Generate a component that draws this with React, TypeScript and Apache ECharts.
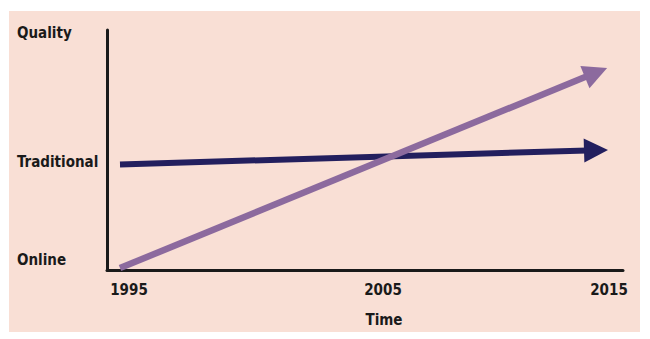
import React, { useEffect, useRef } from "react";
import * as echarts from "echarts";

const xTickValues = [1995, 2005, 2015];
const xTickShift = [18, 50, 26];
const yTickValues = [4.2, 45.1, 98.8];
const yTickLabels = ["Online", "Traditional", "Quality"];
const seriesNames = ["Traditional", "Online"];
const traditionalLine = [[1995, 44], [2015, 49.9]];
const onlineLine = [[1995, 0.8], [2015, 82.3]];
const seriesColors = ["#231f5e", "#8c6a9e"];

const FONT = "'Liberation Sans Narrow', 'DejaVu Sans Condensed', 'Arial Narrow', sans-serif";
const FS = 15;

export default function App() {
  const ref = useRef<HTMLDivElement>(null);
  useEffect(() => {
    if (!ref.current) return;
    const chart = echarts.init(ref.current, null, { renderer: "svg" });
    const rich: any = {};
    xTickValues.forEach((v, i) => {
      rich["t" + i] = {
        fontFamily: FONT,
        fontWeight: "bold",
        fontSize: FS,
        color: "#1a1a1a",
        padding: [0, 0, 0, xTickShift[i]],
      };
    });
    chart.setOption({
      animation: false,
      backgroundColor: "#ffffff",
      graphic: [
        {
          type: "rect",
          z: -10,
          shape: { x: 9, y: 11, width: 631, height: 321 },
          style: { fill: "#f9dfd5" },
          silent: true,
        },
      ],
      grid: { left: 107, right: 27, top: 30, bottom: 69, containLabel: false },
      xAxis: {
        type: "value",
        min: 1994.454,
        max: 2016.134,
        name: "Time",
        nameLocation: "middle",
        nameGap: 42,
        nameTextStyle: {
          fontFamily: FONT,
          fontWeight: "bold",
          fontSize: FS,
          color: "#1a1a1a",
          padding: [0, 0, 0, 38],
        },
        axisLine: { show: true, lineStyle: { color: "#1a1a1a", width: 3 } },
        axisTick: { show: false },
        splitLine: { show: false },
        axisLabel: {
          customValues: xTickValues,
          margin: 12,
          formatter: (v: number) => {
            const i = xTickValues.indexOf(Math.round(v));
            return "{t" + i + "|" + Math.round(v) + "}";
          },
          rich,
        },
      },
      yAxis: {
        type: "value",
        min: 0,
        max: 100,
        axisLine: { show: true, lineStyle: { color: "#1a1a1a", width: 3 } },
        axisTick: { show: false },
        splitLine: { show: false },
        axisLabel: {
          customValues: yTickValues,
          align: "left",
          margin: 90,
          fontFamily: FONT,
          fontWeight: "bold",
          fontSize: FS,
          color: "#1a1a1a",
          formatter: (v: number) => {
            let best = 0;
            yTickValues.forEach((t, i) => {
              if (Math.abs(t - v) < Math.abs(yTickValues[best] - v)) best = i;
            });
            return yTickLabels[best];
          },
        },
      },
      series: [
        {
          name: seriesNames[0],
          type: "lines",
          coordinateSystem: "cartesian2d",
          symbol: ["none", "triangle"],
          symbolSize: [27, 24],
          lineStyle: { color: seriesColors[0], width: 6, opacity: 1, curveness: 0 },
          data: [{ coords: traditionalLine }],
        },
        {
          name: seriesNames[1],
          type: "lines",
          coordinateSystem: "cartesian2d",
          symbol: ["none", "triangle"],
          symbolSize: [27, 24],
          lineStyle: { color: seriesColors[1], width: 6.5, opacity: 1, curveness: 0 },
          data: [{ coords: onlineLine }],
        },
      ],
    });
    return () => chart.dispose();
  }, []);
  return (
    <div
      ref={ref}
      style={{ position: "absolute", left: 0, top: 0, width: 650, height: 339 }}
    />
  );
}
